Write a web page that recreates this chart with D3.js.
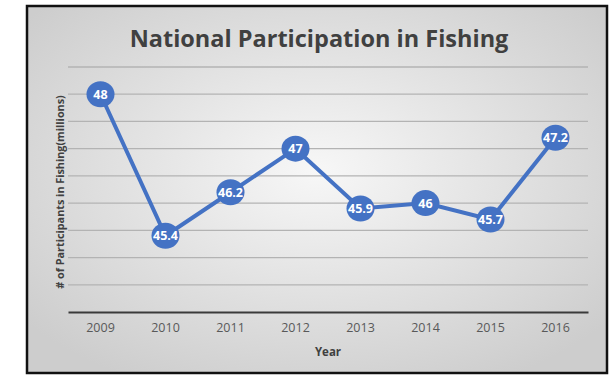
<!DOCTYPE html>
<html>
<head>
<meta charset="utf-8">
<script src="https://cdn.jsdelivr.net/npm/d3@7"></script>
<style>
  body { margin: 0; background: #fff; }
  svg text { font-family: "Open Sans", Lato, sans-serif; }
</style>
</head>
<body>
<div id="chart"></div>
<script>
// data
var years = ["2009", "2010", "2011", "2012", "2013", "2014", "2015", "2016"]
var participants = [48, 45.4, 46.2, 47, 45.9, 46, 45.7, 47.2]
var yTicks = [44.5, 45, 45.5, 46, 46.5, 47, 47.5, 48, 48.5]

var width = 610
var height = 376
var margin = {top: 67, right: 22, bottom: 64, left: 68}

var svg = d3.select("#chart")
  .append("svg")
    .attr("width", width)
    .attr("height", height)

var defs = svg.append("defs")
var grad = defs.append("radialGradient")
    .attr("id", "bg")
    .attr("cx", "50%").attr("cy", "45%").attr("r", "65%")
grad.append("stop").attr("offset", "0%").attr("stop-color", "#f7f7f7")
grad.append("stop").attr("offset", "100%").attr("stop-color", "#cdcdcd")

// chart frame
svg.append("rect")
    .attr("x", 27).attr("y", 6)
    .attr("width", 580).attr("height", 367)
    .attr("fill", "url(#bg)")
    .attr("stroke", "#111")
    .attr("stroke-width", 2.5)

var x = d3.scaleBand()
  .domain(years)
  .range([margin.left, width - margin.right])

var y = d3.scaleLinear()
  .domain([44, 48.5])
  .range([height - margin.bottom, margin.top])

// gridlines
svg.append("g")
  .selectAll("line")
  .data(yTicks)
  .enter()
  .append("line")
    .attr("x1", margin.left)
    .attr("x2", width - margin.right)
    .attr("y1", d => y(d))
    .attr("y2", d => y(d))
    .attr("stroke", "#b3b3b3")
    .attr("stroke-width", 1.3)

// x axis
var xAxis = svg.append("g")
    .attr("transform", "translate(0," + y(44) + ")")
    .call(d3.axisBottom(x).tickSize(0).tickPadding(11))
xAxis.select(".domain")
    .attr("stroke", "#3a3a3a")
    .attr("stroke-width", 2)
xAxis.selectAll("text")
    .attr("fill", "#595959")
    .style("font-size", "12.5px")

// line + markers
var line = d3.line()
  .x((d, i) => x(years[i]) + x.bandwidth() / 2)
  .y(d => y(d))

svg.append("path")
    .datum(participants)
    .attr("d", line)
    .attr("fill", "none")
    .attr("stroke", "#4472C4")
    .attr("stroke-width", 4)

var pts = svg.append("g")
  .selectAll("g")
  .data(participants)
  .enter()
  .append("g")
    .attr("transform", (d, i) => "translate(" + (x(years[i]) + x.bandwidth() / 2) + "," + y(d) + ")")

pts.append("ellipse")
    .attr("rx", 14)
    .attr("ry", 13)
    .attr("fill", "#4472C4")

pts.append("text")
    .attr("text-anchor", "middle")
    .attr("dy", "0.36em")
    .attr("fill", "#fff")
    .style("font-size", "12.5px")
    .style("font-weight", "bold")
    .text(d => d)

// titles
svg.append("text")
    .attr("x", 319)
    .attr("y", 47)
    .attr("text-anchor", "middle")
    .attr("fill", "#404040")
    .style("font-size", "23.5px")
    .style("font-weight", "bold")
    .text("National Participation in Fishing")

svg.append("text")
    .attr("x", (margin.left + width - margin.right) / 2)
    .attr("y", 356)
    .attr("text-anchor", "middle")
    .attr("fill", "#404040")
    .style("font-size", "11.5px")
    .style("font-weight", "bold")
    .text("Year")

svg.append("text")
    .attr("transform", "translate(60,192) rotate(-90)")
    .attr("text-anchor", "middle")
    .attr("dy", "0.35em")
    .attr("fill", "#404040")
    .style("font-size", "10.8px")
    .style("font-weight", "bold")
    .text("# of Participants in Fishing(millions)")
</script>
</body>
</html>
